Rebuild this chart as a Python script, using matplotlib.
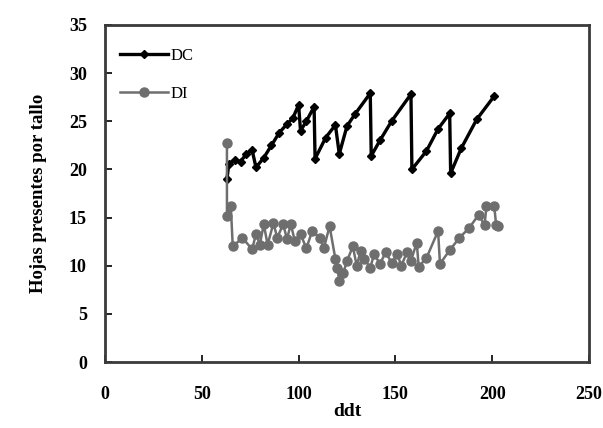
import numpy as np
import matplotlib
matplotlib.use('Agg')
import matplotlib.pyplot as plt

# DC series (days, leaves per stem)
dc_x = [63, 64, 67, 70, 73, 76, 78, 82, 86, 90, 94, 97, 100, 101, 104, 108, 108.5,
        114, 119, 121, 125, 129, 137, 137.5, 142, 148, 158, 158.5, 166, 172, 178, 178.5,
        184, 192, 201]
dc_y = [19.0, 20.6, 21.0, 20.8, 21.6, 22.0, 20.2, 21.2, 22.5, 23.8, 24.7, 25.3, 26.7, 24.0,
        25.0, 26.5, 21.1, 23.3, 24.6, 21.6, 24.5, 25.7, 27.9, 21.4, 23.0, 25.0, 27.8, 20.0,
        21.9, 24.2, 25.8, 19.6, 22.2, 25.2, 27.6]

# DI series
di_x = [63, 63, 65, 66, 71, 76, 78, 80, 82, 84, 87, 89, 92, 94, 96, 98, 101, 104, 107,
        111, 113, 116, 119, 120, 121, 123, 125, 128, 130, 132, 134, 137, 139, 142, 145,
        148, 151, 153, 156, 158, 161, 162, 166, 172, 173, 178, 183, 188, 193, 196, 197,
        201, 202, 203]
di_y = [22.7, 15.2, 16.2, 12.0, 12.9, 11.7, 13.3, 12.2, 14.3, 12.2, 14.4, 12.9, 14.3, 12.8,
        14.3, 12.6, 13.3, 11.8, 13.6, 12.9, 11.8, 14.1, 10.7, 9.8, 8.4, 9.2, 10.5, 12.0,
        10.0, 11.5, 10.7, 9.8, 11.2, 10.2, 11.4, 10.3, 11.2, 10.0, 11.4, 10.5, 12.4, 9.9,
        10.8, 13.6, 10.2, 11.6, 12.9, 13.9, 15.3, 14.2, 16.2, 16.2, 14.2, 14.1]

plt.rcParams['font.family'] = ['Liberation Serif', 'DejaVu Serif']

fig = plt.figure(figsize=(6.03, 4.28), dpi=100)
ax = fig.add_axes([0.174, 0.154, 0.803, 0.788])

ax.plot(dc_x, dc_y, color='black', linewidth=2.4, marker='D', markersize=4.5,
        label='DC')
ax.plot(di_x, di_y, color='#6e6e6e', linewidth=1.8, marker='o', markersize=6.5,
        label='DI')

ax.set_xlim(0, 250)
ax.set_ylim(0, 35)
ax.set_xticks(np.arange(0, 251, 50))
ax.set_yticks(np.arange(0, 36, 5))
ax.tick_params(direction='in', length=5, width=1.2, labelsize=13, pad=13)
ax.tick_params(axis='x', pad=17)
for lab in ax.get_xticklabels() + ax.get_yticklabels():
    lab.set_fontweight('bold')
for sp in ax.spines.values():
    sp.set_linewidth(2.0)
    sp.set_color('#3a3a3a')

ax.set_xlabel('ddt', fontsize=14, fontweight='bold', labelpad=0)
ax.set_ylabel('Hojas presentes por tallo', fontsize=13.5, fontweight='bold', labelpad=16)

leg = ax.legend(loc='upper left', frameon=False, fontsize=12, handlelength=2.9,
                handletextpad=0.15, labelspacing=1.3,
                bbox_to_anchor=(0.0, 0.975))

fig.savefig('out.png', dpi=100)
